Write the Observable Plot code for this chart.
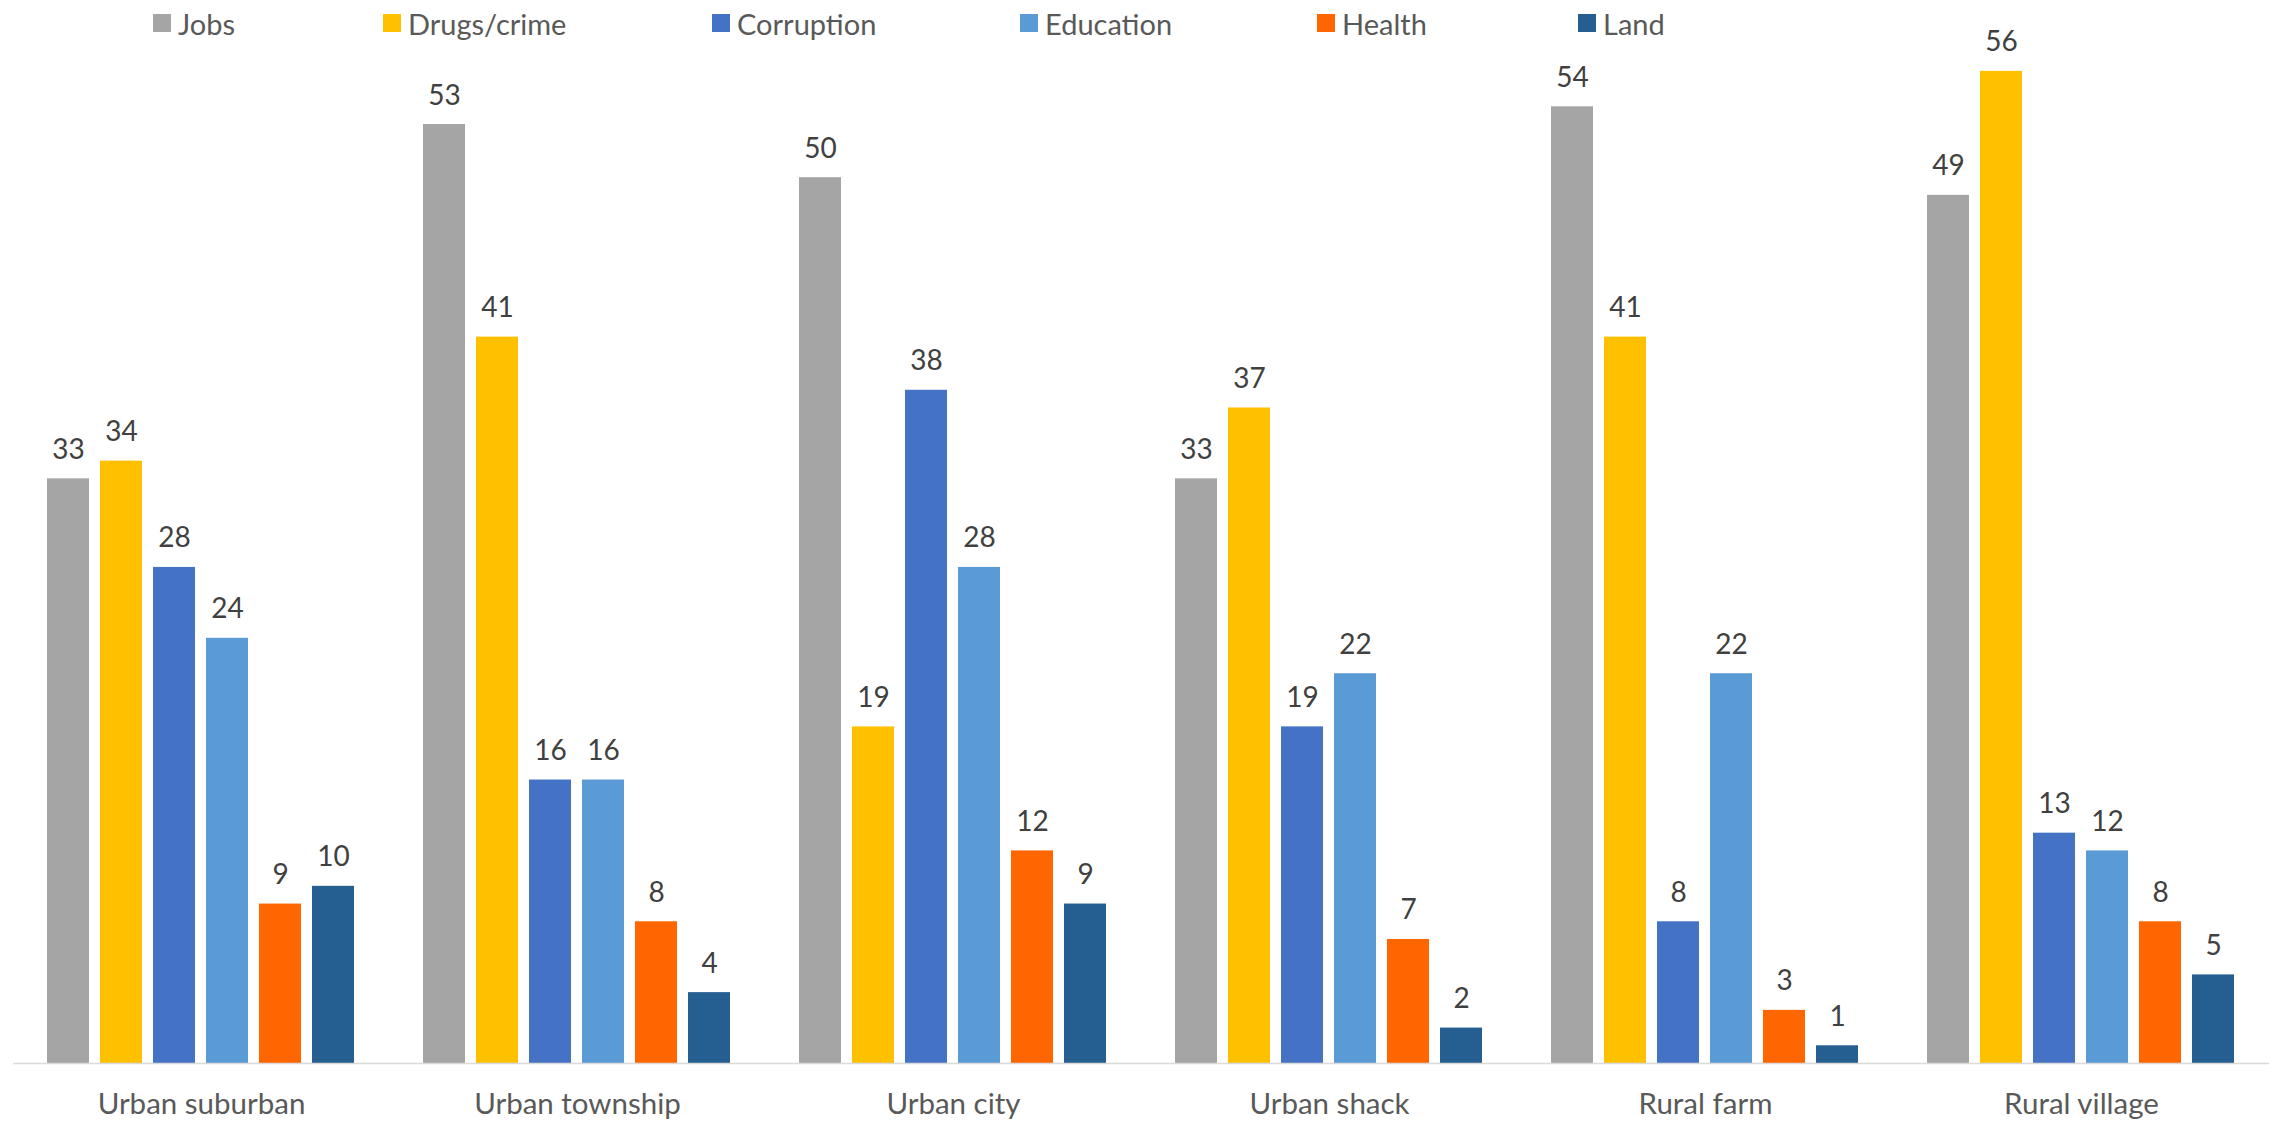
<!DOCTYPE html>
<html>
<head>
<meta charset="utf-8">
<script src="https://cdn.jsdelivr.net/npm/d3@7"></script>
<script src="https://cdn.jsdelivr.net/npm/@observablehq/plot@0.6"></script>
<style>
  html, body { margin: 0; padding: 0; background: #fff; }
  #wrap { position: relative; width: 2274px; height: 1122px; font-family: Lato, "Open Sans", sans-serif; }
  #legend { position: absolute; left: 153px; top: 4px; display: flex; align-items: center; z-index: 2; }
  .item { display: flex; align-items: center; font-size: 29px; color: #595959; height: 38px; }
  .sw { width: 18px; height: 18px; margin-right: 7px; flex: none; }
</style>
</head>
<body>
<div id="wrap">
  <div id="legend"></div>
  <div id="chart"></div>
</div>
<script>
const groups = ["Urban suburban", "Urban township", "Urban city", "Urban shack", "Rural farm", "Rural village"];
const series = ["Jobs", "Drugs/crime", "Corruption", "Education", "Health", "Land"];
const jobs      = [33, 53, 50, 33, 54, 49];
const drugs     = [34, 41, 19, 37, 41, 56];
const corruption= [28, 16, 38, 19, 8, 13];
const education = [24, 16, 28, 22, 22, 12];
const health    = [9, 8, 12, 7, 3, 8];
const land      = [10, 4, 9, 2, 1, 5];
const colors = ["#A5A5A5", "#FFC000", "#4472C4", "#5B9BD5", "#FF6600", "#255E91"];
const legendWidths = [230, 329, 308, 297, 261, 100];

const seriesValues = [jobs, drugs, corruption, education, health, land];
const rows = [];
groups.forEach((g, gi) => {
  series.forEach((s, si) => rows.push({group: g, series: s, value: seriesValues[si][gi]}));
});

const legend = document.getElementById("legend");
series.forEach((s, i) => {
  const it = document.createElement("div");
  it.className = "item";
  it.style.width = legendWidths[i] + "px";
  it.innerHTML = `<span class="sw" style="background:${colors[i]}"></span><span>${s}</span>`;
  legend.appendChild(it);
});

const chart = Plot.plot({
  width: 2274,
  height: 1122,
  marginTop: 0,
  marginBottom: 59,
  marginLeft: 11,
  marginRight: 3,
  style: {fontFamily: "Lato, 'Open Sans', sans-serif", background: "#fff"},
  fx: {domain: groups, padding: 0, axis: null},
  x: {domain: series, paddingInner: 0.205, paddingOuter: 0.6, axis: null},
  y: {domain: [0, 60], axis: null},
  color: {domain: series, range: colors},
  marks: [
    Plot.barY(rows, {fx: "group", x: "series", y: "value", fill: "series"}),
    Plot.ruleY([0], {stroke: "#d9d9d9", strokeWidth: 1.5}),
    Plot.text(rows, {fx: "group", x: "series", y: "value", text: d => String(d.value),
      lineAnchor: "bottom", dy: -20, fontSize: 28, fill: "#404040"}),
    Plot.text(groups.map(g => ({group: g})), {fx: "group", text: "group", frameAnchor: "bottom",
      lineAnchor: "bottom", dy: 50, fontSize: 29.5, fill: "#595959"})
  ]
});
document.getElementById("chart").appendChild(chart);
</script>
</body>
</html>
